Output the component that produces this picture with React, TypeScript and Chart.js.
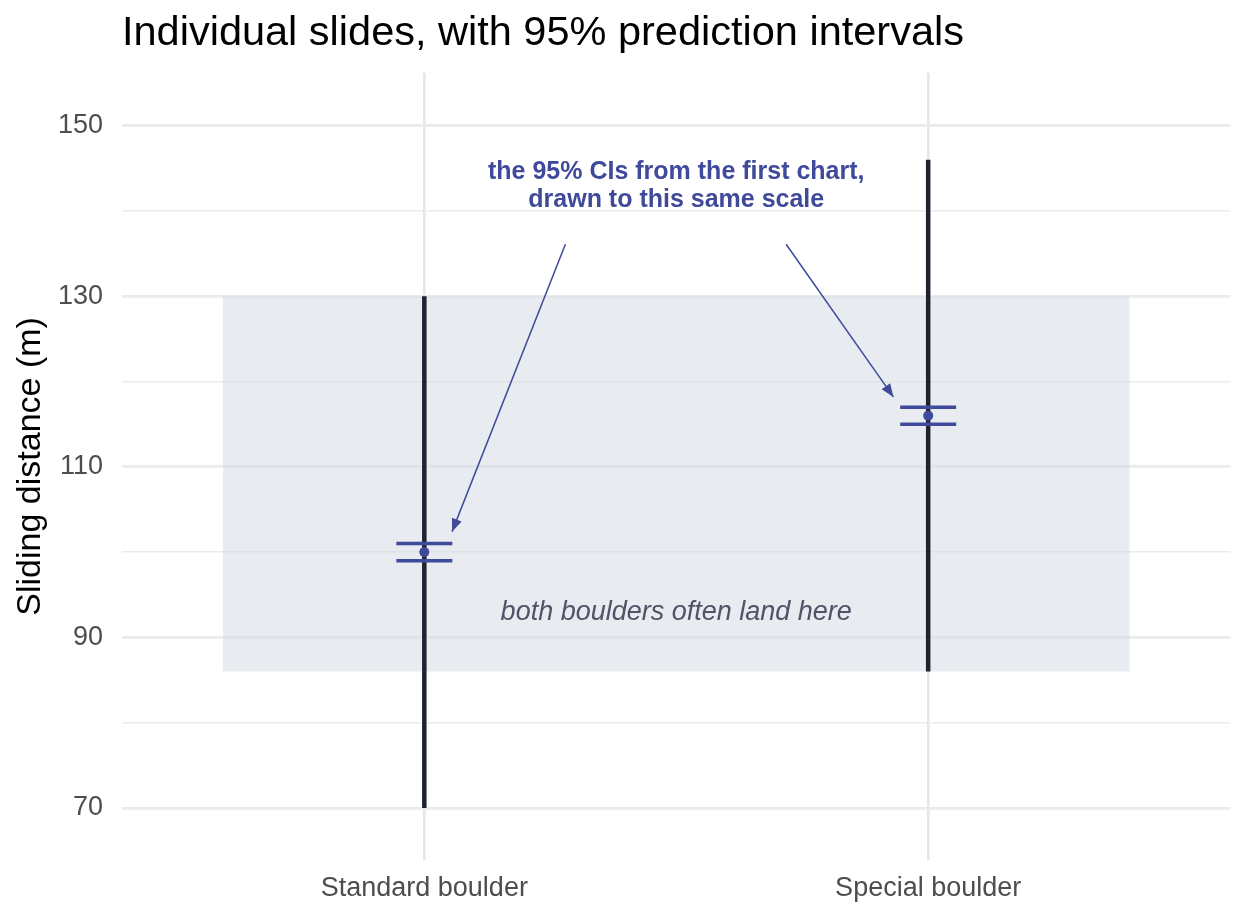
import React, { useEffect, useRef } from 'react';
import { Chart, registerables } from 'chart.js';

Chart.register(...registerables);

// categories sit at x = 1, 2 on a linear axis (discrete-style padding of 0.6)
const categories = ['Standard boulder', 'Special boulder'];
const categoryPos = [1, 2];
const yTicks = [70, 80, 90, 100, 110, 120, 130, 140, 150];
const yMajor = [70, 90, 110, 130, 150];

// 95% prediction intervals for individual slides
const piLow = [70, 86];
const piHigh = [130, 146];

// 95% CIs from the first chart
const ciMid = [100, 116];
const ciLow = [99, 115];
const ciHigh = [101, 117];

// shaded overlap band
const bandX = [0.6, 2.4];
const bandLow = 86;
const bandHigh = 130;

// annotations
const noteLines = ['the 95% CIs from the first chart,', 'drawn to this same scale'];
const notePos = { x: 1.5, y: 144.5 };
const bandNote = 'both boulders often land here';
const bandNotePos = { x: 1.5, y: 92.9 };
const arrows = [
    { from: { x: 1.28, y: 136.1 }, to: { x: 1.055, y: 102.4 } },
    { from: { x: 1.718, y: 136.1 }, to: { x: 1.931, y: 118.2 } },
];

const BLUE = '#3f4a9a';
const DARK = '#1f2330';
const FONT = '"Liberation Sans", Arial, sans-serif';

const annotationPlugin = {
    id: 'annotations',
    afterDatasetsDraw(chart: any) {
        const { ctx, scales } = chart;
        const xs = scales.x;
        const ys = scales.y;
        ctx.save();
        // arrows
        ctx.strokeStyle = BLUE;
        ctx.fillStyle = BLUE;
        ctx.lineWidth = 1.5;
        arrows.forEach((a) => {
            const x1 = xs.getPixelForValue(a.from.x);
            const y1 = ys.getPixelForValue(a.from.y);
            const x2 = xs.getPixelForValue(a.to.x);
            const y2 = ys.getPixelForValue(a.to.y);
            ctx.beginPath();
            ctx.moveTo(x1, y1);
            ctx.lineTo(x2, y2);
            ctx.stroke();
            const ang = Math.atan2(y2 - y1, x2 - x1);
            const len = 14;
            const spread = 0.38;
            ctx.beginPath();
            ctx.moveTo(x2, y2);
            ctx.lineTo(x2 - len * Math.cos(ang - spread), y2 - len * Math.sin(ang - spread));
            ctx.lineTo(x2 - len * Math.cos(ang + spread), y2 - len * Math.sin(ang + spread));
            ctx.closePath();
            ctx.fill();
        });
        // note text
        ctx.textAlign = 'center';
        ctx.textBaseline = 'middle';
        ctx.font = 'bold 25px ' + FONT;
        const nx = xs.getPixelForValue(notePos.x);
        const ny = ys.getPixelForValue(notePos.y);
        noteLines.forEach((line, i) => {
            ctx.fillText(line, nx, ny + i * 28);
        });
        ctx.fillStyle = '#4f5466';
        ctx.font = 'italic 27px ' + FONT;
        ctx.fillText(bandNote, xs.getPixelForValue(bandNotePos.x), ys.getPixelForValue(bandNotePos.y));
        ctx.restore();
    },
};

const App: React.FC = () => {
    const chartRef = useRef<HTMLCanvasElement | null>(null);
    const chartInstanceRef = useRef<Chart | null>(null);

    useEffect(() => {
        if (!chartRef.current) return;
        const ctx = chartRef.current.getContext('2d');
        if (!ctx) return;

        const datasets: any[] = [
            {
                label: 'band top',
                data: bandX.map((x) => ({ x, y: bandHigh })),
                showLine: true,
                borderWidth: 0,
                pointRadius: 0,
                backgroundColor: 'rgba(214, 220, 230, 0.55)',
                fill: '+1',
                order: 10,
            },
            {
                label: 'band bottom',
                data: bandX.map((x) => ({ x, y: bandLow })),
                showLine: true,
                borderWidth: 0,
                pointRadius: 0,
                fill: false,
                order: 10,
            },
        ];

        categoryPos.forEach((x, i) => {
            datasets.push({
                label: 'pi ' + categories[i],
                data: [{ x, y: piLow[i] }, { x, y: piHigh[i] }],
                showLine: true,
                borderColor: DARK,
                borderWidth: 4.5,
                pointRadius: 0,
                fill: false,
                order: 5,
            });
        });

        datasets.push({
            label: 'ci caps',
            data: categoryPos.flatMap((x, i) => [{ x, y: ciLow[i] }, { x, y: ciHigh[i] }]),
            showLine: false,
            pointStyle: 'line',
            pointRadius: 28,
            borderColor: BLUE,
            borderWidth: 3.5,
            order: 2,
        });
        datasets.push({
            label: 'ci mid',
            data: categoryPos.map((x, i) => ({ x, y: ciMid[i] })),
            showLine: false,
            pointStyle: 'circle',
            pointRadius: 5,
            backgroundColor: BLUE,
            borderColor: BLUE,
            borderWidth: 0,
            order: 1,
        });

        chartInstanceRef.current = new Chart(ctx, {
            type: 'scatter',
            data: { datasets },
            options: {
                responsive: false,
                animation: false,
                layout: { padding: { left: 0, right: 18, top: 9, bottom: 0 } },
                scales: {
                    x: {
                        type: 'linear',
                        min: 0.4,
                        max: 2.6,
                        afterBuildTicks: (axis: any) => {
                            axis.ticks = categoryPos.map((v) => ({ value: v }));
                        },
                        afterFit: (axis: any) => {
                            axis.height = 61;
                            axis.paddingLeft = 0;
                            axis.paddingRight = 0;
                        },
                        border: { display: false },
                        grid: {
                            color: '#e6e6e6',
                            lineWidth: 2.5,
                            drawTicks: false,
                        },
                        ticks: {
                            color: '#4d4d4d',
                            padding: 12,
                            font: { size: 27, family: FONT },
                            callback: (v: any) => categories[categoryPos.indexOf(Number(v))] ?? '',
                        },
                    },
                    y: {
                        type: 'linear',
                        min: 63.9,
                        max: 156.2,
                        afterBuildTicks: (axis: any) => {
                            axis.ticks = yTicks.map((v) => ({ value: v }));
                        },
                        afterFit: (axis: any) => {
                            axis.width = 122;
                        },
                        border: { display: false },
                        grid: {
                            color: '#ebebeb',
                            lineWidth: (c: any) => (yMajor.includes(c.tick?.value) ? 2.8 : 1.6),
                            drawTicks: false,
                        },
                        ticks: {
                            color: '#4d4d4d',
                            padding: 19,
                            font: { size: 27, family: FONT },
                            callback: (v: any) => (yMajor.includes(Number(v)) ? String(v) : ''),
                        },
                        title: {
                            display: true,
                            text: 'Sliding distance (m)',
                            color: '#000000',
                            padding: { top: 10, bottom: 9 },
                            font: { size: 34, family: FONT },
                        },
                    },
                },
                plugins: {
                    legend: { display: false },
                    tooltip: { enabled: false },
                    title: {
                        display: true,
                        text: 'Individual slides, with 95% prediction intervals',
                        align: 'start',
                        fullSize: false,
                        color: '#000000',
                        padding: { top: 0, bottom: 14 },
                        font: { size: 41.5, weight: 'normal', family: FONT },
                    },
                },
            },
            plugins: [annotationPlugin],
        });

        return () => {
            if (chartInstanceRef.current) {
                chartInstanceRef.current.destroy();
                chartInstanceRef.current = null;
            }
        };
    }, []);

    return (
        <div style={{ position: 'fixed', left: 0, top: 0, width: 1248, height: 921, overflow: 'hidden', background: '#ffffff' }}>
            <canvas ref={chartRef} width="1262" height="921" style={{ display: 'block' }}></canvas>
        </div>
    );
};

export default App;
